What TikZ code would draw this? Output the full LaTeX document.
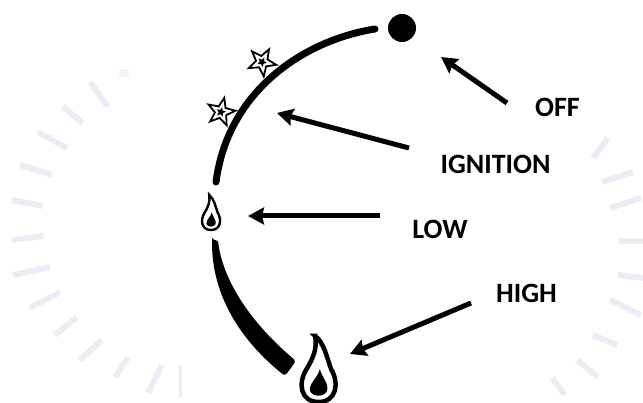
\documentclass[tikz,border=0pt]{standalone}
\usepackage{fontspec}
\setmainfont{Carlito}
\usetikzlibrary{arrows.meta,shapes.geometric}
\definecolor{tickcol}{HTML}{EFEBF5}
\tikzset{
  lbl/.style={font=\fontsize{28}{32}\selectfont\bfseries,inner sep=0pt},
  pointer/.style={-{Stealth[length=16pt,width=17pt,inset=2pt]},line width=5pt},
  rim/.style={line width=7pt,line cap=round},
  faint/.style={line width=6pt,tickcol},
  dot/.style={circle,fill=black,minimum size=28pt,inner sep=0pt},
  spark/.style={star,star points=5,star point ratio=2.4,draw=black,fill=white,line width=1.8pt,minimum size=29pt,inner sep=0pt},
  sparkin/.style={star,star points=5,star point ratio=2.2,fill=black,minimum size=10pt,inner sep=0pt},
  flame/.pic={
    \draw[fill=white,line width=\pgfkeysvalueof{/tikz/flamew}]
      (-.05,0) .. controls (.08,.1) and (.12,.3) .. (.19,.5)
      .. controls (.32,.72) and (.27,1) .. (0,1)
      .. controls (-.27,1) and (-.32,.72) .. (-.18,.5)
      .. controls (-.08,.33) and (-.02,.2) .. cycle;
    \fill (.02,.5) .. controls (.05,.62) and (.16,.72) .. (.13,.83)
      .. controls (.09,.93) and (-.09,.93) .. (-.13,.83)
      .. controls (-.15,.72) and (0,.62) .. cycle;
  },
  flamew/.initial=4pt,
}
\begin{document}
\begin{tikzpicture}[x=1pt,y=-1pt,>=Stealth]
  \useasboundingbox (0,0) rectangle (643,403);
  % faint ring behind the dial
  \foreach \xa/\ya/\xb/\yb in {
    90/82/108/107,63/107/83/123,38/132/67/148,20/165/52/175,12/200/43/206,
    12/240/43/236,13/275/50/267,30/308/60/292,55/335/77/317,80/360/102/340,
    115/377/128/357,148/393/162/365,
    593/158/608/138,602/182/633/172,610/208/641/198,618/241/643/241,
    618/275/643/278,610/300/641/315,593/335/617/345,577/360/598/377,552/378/565/395}
    \draw[faint] (\xa,\ya)--(\xb,\yb);
  \fill[tickcol!60] (119,69) rectangle (129,77);
  \fill[tickcol] (179,365) rectangle (182,397);

  % dial
  \node[spark,rotate=-29] (sa) at (262,62) {};
  \node[sparkin,rotate=-29] at (sa) {};
  \node[spark,rotate=-13] (sb) at (221,112) {};
  \node[sparkin,rotate=-13] at (sb) {};
  \node[dot] (off) at (402,28) {};
  \coordinate (rima) at (375,29);
  \coordinate (rimb) at (216,182);
  \draw[rim] (rima) .. controls (305,40) and (228,90) .. (rimb);
  \fill[rounded corners=3pt] (212,240) -- (218,240)
    .. controls (222,275) and (245,318) .. (296,361) -- (285,376)
    .. controls (240,340) and (212,295) .. cycle;
  \pic[scale=35,flamew=2.4pt] at (211,195) {flame};
  \pic[scale=66,flamew=4.5pt] at (318.5,336) {flame};

  % labels
  \node[lbl] (loff) at (557.5,107) {OFF};
  \node[lbl] (lign) at (495.5,164.5) {IGNITION};
  \node[lbl] (llow) at (440,229) {LOW};
  \node[lbl] (lhigh) at (526.5,293) {HIGH};

  \coordinate (offtail) at (507,103);
  \coordinate (offtip) at (441,57);
  \coordinate (igntail) at (409,148);
  \coordinate (igntip) at (277,113);
  \coordinate (lowtail) at (380,216);
  \coordinate (lowtip) at (248,216);
  \coordinate (hightail) at (471,303);
  \coordinate (hightip) at (350,354);
  \draw[pointer] (offtail)--(offtip);
  \draw[pointer] (igntail)--(igntip);
  \draw[pointer] (lowtail)--(lowtip);
  \draw[pointer] (hightail)--(hightip);
\end{tikzpicture}
\end{document}
